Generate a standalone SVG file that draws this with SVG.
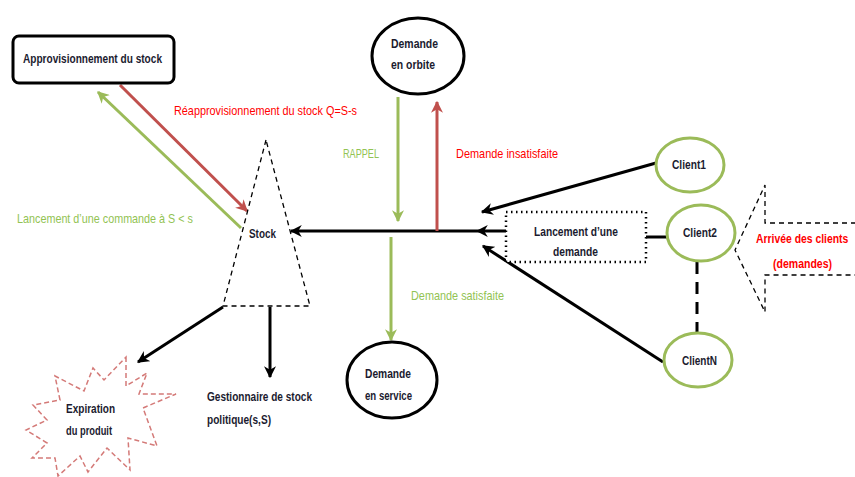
<svg xmlns="http://www.w3.org/2000/svg" width="855" height="477" viewBox="0 0 855 477">
  <defs>
    <marker id="arrBlack" viewBox="0 0 10 10" refX="9" refY="5" markerWidth="12" markerHeight="12" markerUnits="userSpaceOnUse" orient="auto">
      <path d="M0,0 L10,5 L0,10 L3,5 Z" fill="#000"/>
    </marker>
    <marker id="arrGreen" viewBox="0 0 10 10" refX="9" refY="5" markerWidth="12" markerHeight="12" markerUnits="userSpaceOnUse" orient="auto">
      <path d="M0,0 L10,5 L0,10 L3,5 Z" fill="#9bbb59"/>
    </marker>
    <marker id="arrRed" viewBox="0 0 10 10" refX="9" refY="5" markerWidth="12" markerHeight="12" markerUnits="userSpaceOnUse" orient="auto">
      <path d="M0,0 L10,5 L0,10 L3,5 Z" fill="#c0504d"/>
    </marker>
  </defs>
  <style>
    text { font-family: "Liberation Sans", Arial, sans-serif; font-size: 13.5px; }
    .lbl { fill: #1b1b2f; font-weight: bold; }
    .red { fill: #ff0000; }
    .green { fill: #92c353; }
    .conn { fill: none; stroke-width: 3; }
    .blk { stroke: #000; }
    .grn { stroke: #9bbb59; }
    .rd { stroke: #c0504d; }
    .client { fill: #fff; stroke: #9bbb59; stroke-width: 3; }
    .circ { fill: #fff; stroke: #000; stroke-width: 3; }
  </style>
  <rect width="855" height="477" fill="#fff"/>

  <!-- connectors -->
  <g id="connectors">
    <line class="conn rd" x1="120" y1="85" x2="247" y2="211" marker-end="url(#arrRed)"/>
    <line class="conn grn" x1="241" y1="228" x2="98" y2="92" marker-end="url(#arrGreen)"/>
    <polyline class="conn blk" points="506,231 477,231 291,231" marker-mid="url(#arrBlack)" marker-end="url(#arrBlack)"/>
    <line class="conn grn" x1="398" y1="97" x2="398" y2="221" marker-end="url(#arrGreen)"/>
    <line class="conn rd" x1="437" y1="231" x2="437" y2="102" marker-end="url(#arrRed)"/>
    <line class="conn grn" x1="391" y1="237" x2="391" y2="340" marker-end="url(#arrGreen)"/>
    <line class="conn blk" x1="656" y1="163" x2="482" y2="212" marker-end="url(#arrBlack)"/>
    <line class="conn blk" x1="663" y1="362" x2="483" y2="246" marker-end="url(#arrBlack)"/>
    <line class="conn blk" x1="646" y1="237" x2="667" y2="237"/>
    <line class="conn blk" x1="697" y1="262" x2="697" y2="333" stroke-dasharray="12 8"/>
    <line class="conn blk" x1="223" y1="307" x2="138" y2="362" marker-end="url(#arrBlack)"/>
    <line class="conn blk" x1="270" y1="307" x2="270" y2="377" marker-end="url(#arrBlack)"/>
  </g>

  <!-- supply -->
  <g id="approvisionnement">
    <rect x="13" y="36" width="161" height="47" rx="6" fill="#fff" stroke="#000" stroke-width="3"/>
    <text class="lbl" x="23" y="63" textLength="139" lengthAdjust="spacingAndGlyphs">Approvisionnement du stock</text>
  </g>

  <!-- stock triangle -->
  <g id="stock">
    <polygon points="266,140 223,306 310,306" fill="none" stroke="#000" stroke-width="1.3" stroke-dasharray="5 4"/>
    <text class="lbl" x="249" y="238" textLength="27" lengthAdjust="spacingAndGlyphs">Stock</text>
  </g>

  <g id="demande-orbite">
    <ellipse class="circ" cx="418" cy="56" rx="46" ry="38"/>
    <text class="lbl" x="391" y="48" textLength="47" lengthAdjust="spacingAndGlyphs">Demande</text>
    <text class="lbl" x="391" y="69" textLength="44" lengthAdjust="spacingAndGlyphs">en orbite</text>
  </g>

  <g id="demande-service">
    <ellipse class="circ" cx="392" cy="380" rx="45" ry="38"/>
    <text class="lbl" x="365" y="378" textLength="46" lengthAdjust="spacingAndGlyphs">Demande</text>
    <text class="lbl" x="365" y="400" textLength="47" lengthAdjust="spacingAndGlyphs">en service</text>
  </g>

  <g id="lancement-demande">
    <rect x="506" y="212" width="140" height="50" fill="#fff" stroke="#000" stroke-width="2.5" stroke-dasharray="1.5 3.5"/>
    <text class="lbl" x="534" y="236" textLength="84" lengthAdjust="spacingAndGlyphs">Lancement d’une</text>
    <text class="lbl" x="553" y="256" textLength="45" lengthAdjust="spacingAndGlyphs">demande</text>
  </g>

  <g id="client1">
    <ellipse class="client" cx="690" cy="165" rx="34" ry="27"/>
    <text class="lbl" x="672" y="169" textLength="34" lengthAdjust="spacingAndGlyphs">Client1</text>
  </g>
  <g id="client2">
    <ellipse class="client" cx="701" cy="233" rx="34" ry="28"/>
    <text class="lbl" x="683" y="237" textLength="34" lengthAdjust="spacingAndGlyphs">Client2</text>
  </g>
  <g id="clientN">
    <ellipse class="client" cx="698" cy="360" rx="34" ry="27"/>
    <text class="lbl" x="682" y="365" textLength="35" lengthAdjust="spacingAndGlyphs">ClientN</text>
  </g>

  <!-- client arrivals -->
  <g id="arrivee-clients">
    <polygon points="856,223 765,223 765,185 735,250 765,312 765,275 856,275" fill="none" stroke="#000" stroke-width="1.3" stroke-dasharray="5 4"/>
    <text class="red" font-weight="bold" transform="translate(756,243) scale(0.77,1)">Arrivée des clients</text>
    <text class="red" font-weight="bold" transform="translate(773,268) scale(0.78,1)">(demandes)</text>
  </g>

  <g id="expiration">
    <polygon points="126,357 126,386 147,373 139,394 176,394 143,408 157,446 128,438 130,470 107,448 88,472 80,456 58,476 55,458 32,458 47,443 26,430 47,420 33,405 60,400 55,376 84,391 93,368 104,380" fill="#fff" stroke="#d47a78" stroke-width="1.5" stroke-dasharray="5 3"/>
    <text class="lbl" x="66" y="413" textLength="49" lengthAdjust="spacingAndGlyphs">Expiration</text>
    <text class="lbl" x="66" y="435" textLength="46" lengthAdjust="spacingAndGlyphs">du produit</text>
  </g>

  <g id="gestionnaire">
    <text class="lbl" x="207" y="401" textLength="105" lengthAdjust="spacingAndGlyphs">Gestionnaire de stock</text>
    <text class="lbl" x="207" y="424" textLength="64" lengthAdjust="spacingAndGlyphs">politique(s,S)</text>
  </g>

  <!-- connector labels -->
  <g id="labels">
    <text class="red" x="174" y="115" textLength="183" lengthAdjust="spacingAndGlyphs">Réapprovisionnement du stock Q=S-s</text>
    <text class="green" x="17" y="223" textLength="176" lengthAdjust="spacingAndGlyphs">Lancement d’une commande à S &lt; s</text>
    <text class="green" x="343" y="158" textLength="36" lengthAdjust="spacingAndGlyphs">RAPPEL</text>
    <text class="red" x="456" y="158" textLength="102" lengthAdjust="spacingAndGlyphs">Demande insatisfaite</text>
    <text class="green" x="411" y="300" textLength="93" lengthAdjust="spacingAndGlyphs">Demande satisfaite</text>
  </g>
</svg>
